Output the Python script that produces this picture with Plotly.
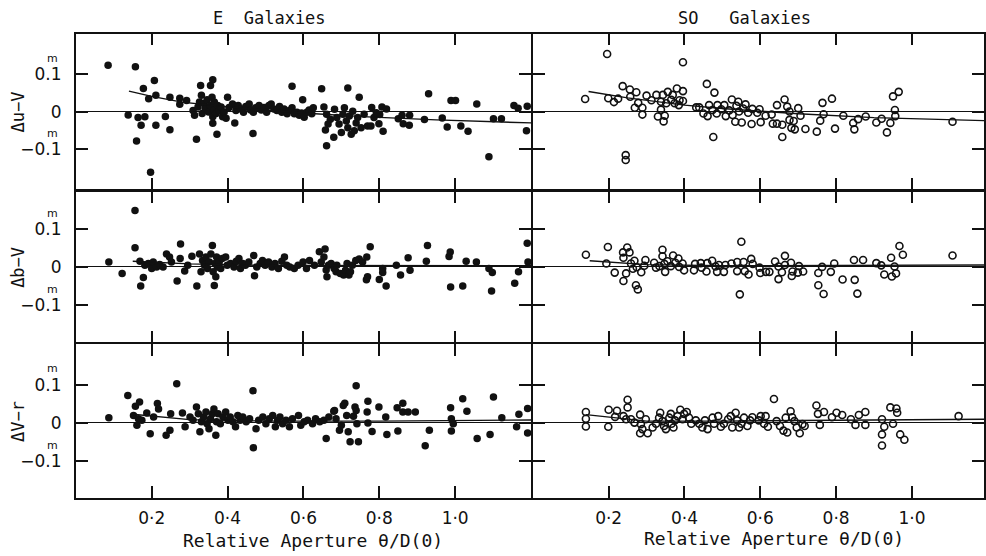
import plotly.graph_objects as go

# ---------------------------------------------------------------
# Colour residuals against relative aperture theta/D(0)
# (x, y) pairs for each galaxy class and colour index
# ---------------------------------------------------------------
E_UV = [
    (0.085, 0.122), (0.157, 0.118), (0.207, 0.082), (0.178, 0.061), (0.211, 0.043), (0.192, 0.034),
    (0.248, 0.038), (0.274, 0.035), (0.274, 0.019), (0.138, -0.009), (0.164, -0.016), (0.182, -0.014),
    (0.172, -0.036), (0.211, -0.036), (0.236, -0.013), (0.248, -0.048), (0.160, -0.078), (0.197, -0.160),
    (0.361, 0.084), (0.355, 0.069), (0.329, 0.069), (0.318, -0.073), (0.372, -0.060), (0.467, -0.058),
    (0.400, 0.038), (0.419, -0.030), (0.570, 0.067), (0.598, 0.031), (0.648, 0.060), (0.717, 0.062),
    (0.747, 0.038), (0.780, 0.011), (0.661, -0.090), (0.680, -0.068), (0.658, -0.049), (0.654, 0.012),
    (0.292, 0.029),
    (0.309, 0.003), (0.313, -0.010), (0.322, 0.012), (0.326, 0.025), (0.331, 0.043), (0.333, -0.005),
    (0.338, 0.021), (0.341, 0.008), (0.346, 0.031), (0.350, -0.001), (0.355, 0.016), (0.359, 0.038),
    (0.361, -0.014), (0.364, 0.005), (0.365, 0.025), (0.370, -0.005), (0.374, 0.016), (0.378, 0.003),
    (0.383, 0.012), (0.387, -0.014), (0.391, -0.001), (0.361, -0.031), (0.396, -0.018),
    (0.404, 0.011), (0.413, 0.020), (0.422, 0.003), (0.428, 0.016), (0.435, 0.007), (0.442, -0.002),
    (0.448, 0.013), (0.457, 0.020), (0.461, 0.004), (0.468, -0.002), (0.474, 0.010), (0.483, 0.016),
    (0.489, 0.004), (0.496, 0.011), (0.503, -0.002), (0.509, 0.016), (0.515, 0.020), (0.522, 0.007),
    (0.530, 0.003), (0.537, 0.013), (0.543, -0.002), (0.549, 0.007), (0.557, -0.006), (0.563, 0.003),
    (0.570, 0.010), (0.576, -0.006), (0.583, -0.002), (0.589, -0.010), (0.595, -0.004), (0.602, -0.015),
    (0.609, -0.002), (0.615, 0.004), (0.622, -0.006), (0.626, 0.010),
    (0.661, -0.007), (0.665, -0.033), (0.671, -0.020), (0.682, 0.006), (0.688, -0.016), (0.694, -0.033),
    (0.700, -0.055), (0.704, -0.007), (0.708, 0.010), (0.713, -0.025), (0.717, -0.043), (0.721, -0.012),
    (0.726, -0.060), (0.730, 0.001), (0.734, -0.051), (0.739, -0.030), (0.743, -0.016), (0.752, -0.043),
    (0.760, -0.007), (0.769, -0.038), (0.778, -0.038), (0.786, -0.016), (0.792, -0.003),
    (0.801, -0.008), (0.807, 0.012), (0.819, 0.007), (0.799, -0.032), (0.810, -0.052), (0.850, -0.019),
    (0.860, -0.010), (0.863, -0.032), (0.880, -0.010), (0.879, -0.036), (0.930, 0.047), (0.919, -0.021),
    (0.966, -0.017), (0.979, -0.041), (0.989, 0.029), (1.001, 0.029), (1.015, -0.038), (1.034, -0.052),
    (1.057, 0.020), (1.101, -0.019), (1.122, -0.019), (1.089, -0.119), (1.155, 0.016), (1.166, 0.009),
    (1.190, 0.014), (1.188, -0.051),
]

E_BV = [
    (0.122, -0.017), (0.156, 0.050), (0.171, -0.050), (0.178, -0.028), (0.169, 0.015), (0.182, 0.004),
    (0.191, 0.009), (0.200, -0.004), (0.204, 0.013), (0.213, 0.000), (0.221, 0.006), (0.230, 0.000),
    (0.239, 0.034), (0.247, 0.026), (0.252, 0.013), (0.267, -0.037), (0.276, 0.060), (0.275, 0.022),
    (0.287, -0.011), (0.295, 0.004), (0.306, 0.028), (0.319, -0.050), (0.326, 0.034), (0.330, -0.013),
    (0.334, 0.017), (0.339, 0.004), (0.343, 0.026), (0.347, -0.004), (0.352, 0.013), (0.356, 0.034),
    (0.360, 0.056), (0.362, -0.013), (0.365, -0.049), (0.367, 0.009), (0.369, -0.026), (0.371, 0.026),
    (0.373, 0.000), (0.378, 0.013), (0.382, -0.004), (0.386, 0.022), (0.395, 0.026), (0.399, 0.004),
    (0.408, 0.009), (0.417, 0.000), (0.423, 0.015), (0.430, 0.022), (0.434, -0.004), (0.440, 0.009),
    (0.447, 0.004), (0.456, 0.013), (0.469, 0.030), (0.471, -0.023), (0.477, 0.000), (0.486, 0.009),
    (0.492, 0.017), (0.499, 0.004), (0.508, 0.013), (0.517, 0.000), (0.525, 0.009), (0.534, -0.004),
    (0.543, 0.015), (0.550, 0.026), (0.556, 0.004), (0.564, 0.000), (0.576, -0.004), (0.586, 0.004),
    (0.599, 0.013), (0.608, -0.004), (0.616, 0.017), (0.629, 0.004), (0.642, 0.040), (0.647, 0.013),
    (0.654, 0.026), (0.657, 0.047), (0.660, -0.008), (0.662, -0.026), (0.666, 0.004), (0.673, 0.009),
    (0.681, -0.004), (0.686, -0.013),
    (0.087, 0.013), (0.156, 0.148), (0.688, 0.004), (0.697, -0.017), (0.706, -0.021), (0.711, -0.009),
    (0.715, 0.009), (0.720, -0.021), (0.724, -0.013), (0.729, 0.004), (0.738, 0.017), (0.747, 0.021),
    (0.756, 0.013), (0.767, 0.026), (0.776, 0.053), (0.766, -0.034), (0.769, -0.026), (0.800, -0.033),
    (0.809, -0.004), (0.809, -0.015), (0.818, -0.050), (0.845, 0.004), (0.856, -0.021), (0.876, 0.024),
    (0.881, -0.009), (0.924, 0.015), (0.927, 0.056), (0.984, 0.027), (0.987, 0.039), (0.988, -0.053),
    (1.020, -0.050), (1.029, 0.015), (1.056, 0.013), (1.089, -0.004), (1.098, -0.015), (1.096, -0.063),
    (1.157, -0.043), (1.167, -0.013), (1.190, 0.062), (1.192, 0.013),
]

E_VR = [
    (0.087, 0.013), (0.137, 0.071), (0.157, 0.043), (0.168, 0.054), (0.152, 0.019), (0.161, -0.007),
    (0.165, 0.010), (0.174, 0.006), (0.187, 0.025), (0.196, -0.029), (0.205, 0.015), (0.215, 0.050),
    (0.218, 0.036), (0.238, -0.033), (0.248, -0.020), (0.250, 0.023), (0.266, 0.102), (0.281, 0.025),
    (0.288, -0.011), (0.301, 0.015), (0.309, 0.006), (0.318, 0.041), (0.323, 0.023), (0.327, -0.024),
    (0.331, 0.002), (0.337, 0.015), (0.343, 0.028), (0.346, -0.003), (0.351, -0.016), (0.355, 0.010),
    (0.360, 0.023), (0.364, 0.036), (0.369, -0.033), (0.371, 0.002), (0.375, 0.023), (0.381, -0.003),
    (0.388, 0.015), (0.395, 0.028), (0.401, 0.006), (0.407, 0.015), (0.414, 0.002), (0.421, -0.011),
    (0.427, 0.019), (0.433, 0.006), (0.440, 0.015), (0.449, 0.002), (0.458, 0.010), (0.467, 0.084),
    (0.468, -0.066), (0.475, -0.016), (0.482, 0.006), (0.493, 0.015), (0.501, -0.003), (0.510, 0.010),
    (0.519, 0.019), (0.526, -0.011), (0.532, 0.006), (0.538, 0.015), (0.545, -0.003), (0.554, 0.006),
    (0.563, -0.011), (0.571, 0.010), (0.587, 0.019), (0.593, -0.007), (0.602, 0.002), (0.611, 0.006),
    (0.624, -0.003), (0.632, 0.010), (0.643, 0.002), (0.654, 0.006), (0.660, -0.042), (0.667, 0.015),
    (0.680, 0.030),
    (0.682, 0.032), (0.686, 0.010), (0.695, -0.020), (0.700, -0.007), (0.705, 0.045), (0.709, 0.051),
    (0.714, 0.019), (0.718, -0.024), (0.723, -0.050), (0.732, 0.017), (0.736, 0.041), (0.739, 0.032),
    (0.741, -0.003), (0.745, -0.050), (0.739, 0.097), (0.770, 0.056), (0.768, 0.028), (0.770, -0.001),
    (0.781, -0.023), (0.799, 0.041), (0.817, 0.015), (0.820, -0.031), (0.849, -0.022), (0.847, 0.039),
    (0.862, 0.051), (0.862, 0.028), (0.876, 0.028), (0.895, 0.028), (0.921, -0.061), (0.932, -0.020),
    (0.988, 0.039), (0.990, 0.010), (0.990, -0.022), (0.995, -0.003), (1.020, 0.063), (1.031, 0.030),
    (1.058, -0.042), (1.092, -0.031), (1.101, 0.067), (1.123, 0.013), (1.162, -0.011), (1.168, 0.022),
    (1.191, 0.037), (1.191, -0.027),
]

S0_UV = [
    (0.196, 0.152), (0.396, 0.130), (0.138, 0.033), (0.199, 0.035), (0.214, 0.025), (0.225, 0.034),
    (0.237, 0.067), (0.245, -0.115), (0.245, -0.128), (0.256, 0.058), (0.257, 0.039), (0.273, 0.051),
    (0.269, 0.010), (0.278, 0.023), (0.289, -0.008), (0.289, 0.010), (0.300, 0.042), (0.313, 0.030),
    (0.326, 0.044), (0.330, -0.013), (0.338, 0.026), (0.338, 0.005), (0.343, 0.044), (0.345, -0.026),
    (0.348, -0.011), (0.352, 0.022), (0.356, 0.052), (0.365, 0.031), (0.369, 0.044), (0.374, 0.022),
    (0.380, 0.061), (0.385, 0.017), (0.387, 0.030), (0.396, 0.054), (0.396, 0.028),
    (0.459, 0.073), (0.479, 0.050), (0.476, -0.067), (0.431, 0.011), (0.439, 0.011), (0.450, -0.005),
    (0.461, -0.012), (0.465, 0.017), (0.474, 0.004), (0.485, -0.005), (0.487, 0.017), (0.497, 0.006),
    (0.505, 0.017), (0.509, -0.012), (0.518, 0.003), (0.525, 0.032), (0.527, -0.009), (0.534, -0.027),
    (0.537, 0.015), (0.542, 0.026), (0.544, 0.000), (0.551, -0.029), (0.555, 0.008), (0.561, 0.019),
    (0.568, -0.003), (0.577, -0.033), (0.579, 0.007), (0.592, -0.003), (0.598, 0.006), (0.601, -0.028),
    (0.614, -0.011), (0.630, -0.008), (0.633, -0.032), (0.644, -0.032), (0.644, 0.017), (0.658, -0.035),
    (0.658, -0.067), (0.664, 0.032), (0.671, 0.013), (0.677, 0.000), (0.677, -0.022), (0.682, -0.043),
    (0.688, -0.025), (0.691, -0.047), (0.700, 0.009), (0.706, -0.011), (0.719, -0.046), (0.749, -0.053),
    (0.758, -0.024), (0.764, 0.023), (0.767, -0.007), (0.789, 0.034), (0.797, -0.045), (0.819, -0.011),
    (0.845, -0.030), (0.848, -0.047), (0.858, -0.020), (0.878, -0.013), (0.906, -0.029), (0.920, -0.019),
    (0.934, -0.055), (0.943, -0.030), (0.950, 0.040), (0.965, 0.052), (0.955, 0.004), (0.956, -0.012),
    (1.107, -0.027),
]

S0_BV = [
    (0.140, 0.032), (0.198, 0.052), (0.194, 0.009), (0.216, -0.015), (0.238, 0.038), (0.239, 0.024),
    (0.239, -0.037), (0.249, 0.051), (0.246, -0.017), (0.255, 0.038), (0.259, 0.009), (0.264, -0.005),
    (0.268, 0.016), (0.272, -0.048), (0.277, -0.059), (0.274, -0.001), (0.286, -0.014), (0.297, 0.018),
    (0.294, 0.003), (0.320, 0.011), (0.325, -0.002), (0.334, 0.002), (0.342, 0.045), (0.342, 0.028),
    (0.347, 0.008), (0.349, -0.013), (0.355, 0.015), (0.364, 0.002), (0.370, 0.030), (0.376, 0.011),
    (0.384, 0.022), (0.386, 0.000), (0.395, 0.009), (0.399, -0.009), (0.425, -0.009), (0.428, 0.008),
    (0.443, 0.010), (0.445, -0.002), (0.458, -0.012), (0.460, 0.010), (0.473, 0.016), (0.482, 0.001),
    (0.486, -0.013), (0.491, 0.005), (0.504, -0.013), (0.508, 0.005), (0.524, 0.009), (0.539, 0.013),
    (0.539, -0.011), (0.550, 0.066), (0.546, -0.072), (0.556, 0.013), (0.559, -0.011), (0.569, -0.020),
    (0.576, 0.021), (0.580, 0.008), (0.598, -0.002), (0.600, -0.016), (0.615, -0.013), (0.624, -0.013),
    (0.639, 0.014), (0.648, 0.001), (0.648, -0.032), (0.657, -0.014), (0.665, 0.029), (0.665, 0.005),
    (0.681, 0.011), (0.683, -0.024), (0.685, -0.012), (0.702, 0.002), (0.699, -0.015), (0.713, -0.012),
    (0.753, -0.016), (0.753, -0.048), (0.763, 0.000), (0.767, -0.071), (0.786, -0.013), (0.795, 0.009),
    (0.817, -0.033), (0.847, 0.018), (0.849, -0.034), (0.856, -0.070), (0.871, 0.018), (0.906, 0.010),
    (0.919, 0.004), (0.927, -0.020), (0.945, 0.024), (0.947, -0.025), (0.954, 0.001), (0.958, -0.017),
    (0.967, 0.055), (0.976, 0.032), (1.107, 0.030),
]

S0_VR = [
    (0.140, 0.028), (0.140, 0.010), (0.140, -0.010), (0.199, -0.011), (0.200, 0.034), (0.222, 0.031),
    (0.217, 0.015), (0.239, 0.017), (0.250, 0.060), (0.250, 0.040), (0.246, 0.009), (0.259, 0.009),
    (0.268, 0.000), (0.283, 0.021), (0.285, -0.004), (0.283, -0.028), (0.289, -0.017), (0.298, 0.009),
    (0.303, -0.028), (0.316, -0.013), (0.325, -0.003), (0.333, 0.013), (0.336, 0.026), (0.342, 0.004),
    (0.346, -0.009), (0.351, -0.017), (0.360, 0.013), (0.364, 0.023), (0.366, -0.003), (0.371, -0.013),
    (0.375, 0.006), (0.382, 0.017), (0.389, 0.034), (0.395, 0.009), (0.399, 0.023), (0.406, 0.028),
    (0.412, 0.013), (0.418, -0.003), (0.430, 0.006), (0.439, -0.003), (0.447, -0.013), (0.454, 0.006),
    (0.461, -0.017), (0.474, 0.013), (0.478, -0.003), (0.489, 0.017), (0.496, -0.011), (0.504, -0.003),
    (0.515, 0.009), (0.522, 0.017), (0.526, -0.013), (0.535, 0.026), (0.539, 0.006), (0.544, -0.013),
    (0.550, -0.003), (0.557, 0.013), (0.566, -0.009), (0.573, 0.006), (0.579, 0.014), (0.596, 0.006),
    (0.601, 0.017), (0.610, -0.003), (0.614, 0.017), (0.620, -0.011), (0.636, 0.062), (0.643, 0.004),
    (0.652, -0.009), (0.661, -0.021), (0.667, 0.013), (0.671, -0.026), (0.680, 0.030), (0.684, 0.014),
    (0.690, 0.004), (0.696, -0.013), (0.704, -0.028), (0.711, -0.004),
    (0.717, -0.009), (0.748, 0.045), (0.752, 0.023), (0.757, -0.006), (0.768, 0.028), (0.789, 0.014),
    (0.801, 0.026), (0.816, 0.020), (0.839, 0.009), (0.851, -0.006), (0.860, 0.020), (0.877, 0.028),
    (0.877, -0.006), (0.921, 0.009), (0.921, -0.031), (0.921, -0.060), (0.927, -0.011), (0.943, 0.040),
    (0.950, -0.003), (0.959, 0.037), (0.961, 0.026), (0.969, -0.031), (0.980, -0.045), (1.123, 0.017),
]

# Mean-trend curves drawn through each panel
E_UV_FIT_X = [0.14, 0.20, 0.28, 0.40, 0.50, 0.62, 0.77, 0.95, 1.20]
E_UV_FIT_Y = [0.054, 0.040, 0.025, 0.012, 0.004, -0.005, -0.014, -0.022, -0.030]
E_BV_FIT_X = [0.15, 0.30, 0.50, 0.80, 1.20]
E_BV_FIT_Y = [0.015, 0.008, 0.004, 0.003, 0.003]
E_VR_FIT_X = [0.15, 0.30, 0.50, 0.80, 1.20]
E_VR_FIT_Y = [0.022, 0.008, 0.004, 0.004, 0.007]
S0_UV_FIT_X = [0.147, 0.25, 0.40, 0.50, 0.70, 0.90, 1.19]
S0_UV_FIT_Y = [0.053, 0.036, 0.017, 0.008, -0.006, -0.016, -0.024]
S0_BV_FIT_X = [0.15, 0.30, 0.50, 0.80, 1.19]
S0_BV_FIT_Y = [0.016, 0.006, 0.003, 0.004, 0.005]
S0_VR_FIT_X = [0.14, 0.30, 0.50, 0.80, 1.19]
S0_VR_FIT_Y = [0.021, 0.004, 0.004, 0.006, 0.009]

ROW_LABELS = ["Δu−V", "Δb−V", "ΔV−r"]
COL_TITLES = ["E  Galaxies", "SO   Galaxies"]
X_TICKS = [0.2, 0.4, 0.6, 0.8, 1.0]
X_TICKTEXT = ["0·2", "0·4", "0·6", "0·8", "1·0"]
Y_TICKS = [-0.1, 0.0, 0.1]
Y_TICKTEXT = ["−0.1", "0", "0.1"]
X_TITLE = "Relative Aperture θ/D(0)"

# ---------------------------------------------------------------
W, H = 986, 556
INK = "#111111"
MONO = "DejaVu Sans Mono"
SANS = "DejaVu Sans"
LW = 1.8          # frame line width; lines sit outside the plot area by LW/2


def px_x(p):
    return p / W


def px_y(p):
    return 1 - p / H


# shared borders: pull each neighbour in by half a line so the two frames coincide
col_dom = [[px_x(76), px_x(533 - LW / 2)], [px_x(533 + LW / 2), 1.0]]
col_range = [[0, 1.2], [0, 1.19]]
row_px = [(33.5, 190.5 - LW / 2), (190.5 + LW / 2, 343.3 - LW / 2), (343.3 + LW / 2, 498.0)]
row_range = [[-0.206, 0.206], [-0.198, 0.198], [-0.198, 0.206]]

panels = [
    [(E_UV, E_UV_FIT_X, E_UV_FIT_Y, "E"), (S0_UV, S0_UV_FIT_X, S0_UV_FIT_Y, "S0")],
    [(E_BV, E_BV_FIT_X, E_BV_FIT_Y, "E"), (S0_BV, S0_BV_FIT_X, S0_BV_FIT_Y, "S0")],
    [(E_VR, E_VR_FIT_X, E_VR_FIT_Y, "E"), (S0_VR, S0_VR_FIT_X, S0_VR_FIT_Y, "S0")],
]

fig = go.Figure()
layout = {}
annotations = []

for r in range(3):
    for c in range(2):
        n = r * 2 + c + 1
        sfx = "" if n == 1 else str(n)
        xa, ya = "x" + sfx, "y" + sfx
        pts, fx, fy, kind = panels[r][c]
        xs = [p[0] for p in pts]
        ys = [p[1] for p in pts]

        if kind == "E":
            marker = dict(symbol="circle", size=7.5, color=INK, line=dict(width=0))
        else:
            marker = dict(symbol="circle-open", size=7, color=INK, line=dict(width=1.6, color=INK))

        fig.add_trace(go.Scatter(x=xs, y=ys, mode="markers", marker=marker,
                                 xaxis=xa, yaxis=ya, cliponaxis=False,
                                 hoverinfo="skip", showlegend=False))
        fig.add_trace(go.Scatter(x=fx, y=fy, mode="lines", line=dict(color=INK, width=1.4),
                                 xaxis=xa, yaxis=ya, hoverinfo="skip", showlegend=False))

        top, bot = row_px[r]
        layout["xaxis" + sfx] = dict(
            domain=col_dom[c], range=col_range[c], anchor=ya,
            showgrid=False, zeroline=False, showline=True, linecolor=INK, linewidth=LW,
            mirror="ticks", ticks="inside", ticklen=12, tickwidth=2, tickcolor=INK,
            tickvals=X_TICKS, ticktext=X_TICKTEXT, showticklabels=(r == 2),
            tickfont=dict(family=SANS, size=17, color=INK), ticklabelstandoff=4,
        )
        layout["yaxis" + sfx] = dict(
            domain=[px_y(bot), px_y(top)], range=row_range[r], anchor=xa,
            showgrid=False, zeroline=True, zerolinecolor=INK, zerolinewidth=1.4,
            showline=True, linecolor=INK, linewidth=LW,
            mirror="ticks", ticks="inside", ticklen=12, tickwidth=2, tickcolor=INK,
            tickvals=Y_TICKS, ticktext=Y_TICKTEXT, showticklabels=(c == 0),
            tickfont=dict(family=SANS, size=17, color=INK), ticklabelstandoff=9,
        )

        if c == 0:
            # magnitude superscripts above the 0.1 labels
            for yv in (0.1, -0.1):
                annotations.append(dict(
                    text="m", x=px_x(53), xref="paper", y=yv + 0.041, yref=ya,
                    showarrow=False, font=dict(family=SANS, size=11, color=INK),
                    xanchor="center", yanchor="middle"))
            mid = (row_px[r][0] + row_px[r][1]) / 2
            annotations.append(dict(
                text=ROW_LABELS[r], x=px_x(18), y=px_y(mid), xref="paper", yref="paper",
                textangle=-90, showarrow=False, xanchor="center", yanchor="middle",
                font=dict(family=MONO, size=17, color=INK)))

# column headings
for txt, cx in zip(COL_TITLES, (270, 746)):
    annotations.append(dict(text=txt, x=px_x(cx), y=px_y(18), xref="paper", yref="paper",
                            showarrow=False, xanchor="center", yanchor="middle",
                            font=dict(family=MONO, size=17, color=INK)))

# x-axis titles under each column
for cx, cy in ((314, 540), (776, 538)):
    annotations.append(dict(text=X_TITLE, x=px_x(cx), y=px_y(cy), xref="paper", yref="paper",
                            showarrow=False, xanchor="center", yanchor="middle",
                            font=dict(family=MONO, size=18, color=INK)))

fig.update_layout(
    width=W, height=H,
    margin=dict(l=0, r=0, t=0, b=0),
    paper_bgcolor="white", plot_bgcolor="white",
    showlegend=False,
    annotations=annotations,
    **layout,
)

fig.write_html("out.html")
